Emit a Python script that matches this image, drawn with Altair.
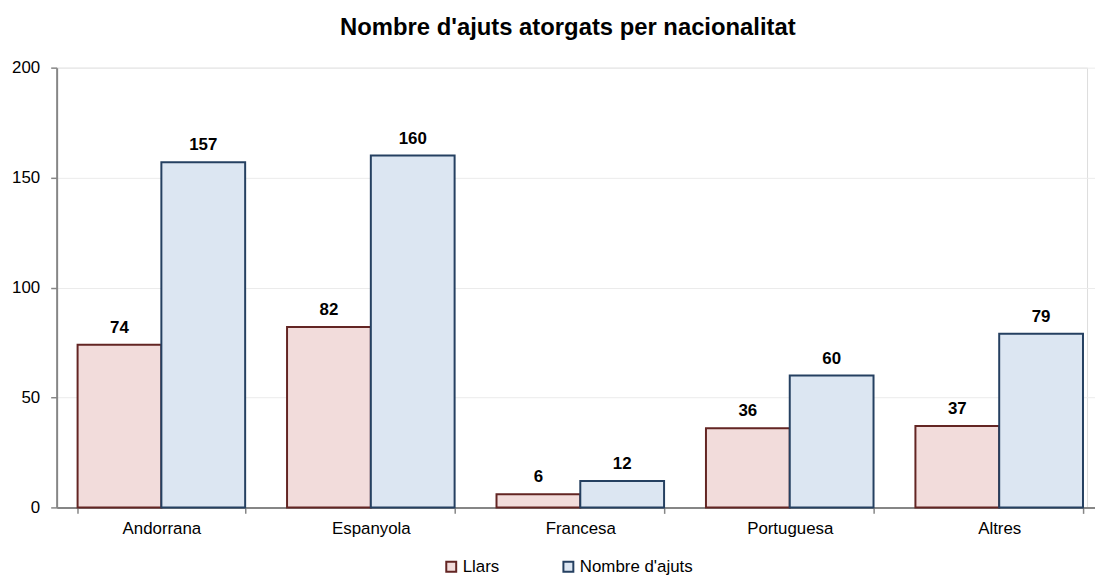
import altair as alt
import pandas as pd

categories = ["Andorrana", "Espanyola", "Francesa", "Portuguesa", "Altres"]
series = ["Llars", "Nombre d'ajuts"]
llars = [74, 82, 6, 36, 37]
ajuts = [157, 160, 12, 60, 79]
y_ticks = [0, 50, 100, 150, 200]

rows = []
for c, a, b in zip(categories, llars, ajuts):
    rows.append({"nacionalitat": c, "serie": series[0], "valor": a})
    rows.append({"nacionalitat": c, "serie": series[1], "valor": b})
df = pd.DataFrame(rows)

FONT = "Liberation Sans"
fills = ["#F2DCDB", "#DCE6F2"]
strokes = ["#632523", "#254061"]

x = alt.X("nacionalitat:N", sort=categories, title=None,
          scale=alt.Scale(paddingInner=0.2, paddingOuter=0.1, range=[0, 1055]),
          axis=alt.Axis(labelAngle=0, labelFont=FONT, labelFontSize=17, labelColor="#000000",
                        domainColor="#868686", domainWidth=2, tickColor="#868686", tickWidth=1.5,
                        tickSize=6, tickBand="extent", labelPadding=7, grid=False))
y = alt.Y("valor:Q", title=None,
          scale=alt.Scale(domain=[0, 200], nice=False),
          axis=alt.Axis(values=y_ticks, labelFont=FONT, labelFontSize=17, labelColor="#000000",
                        domainColor="#868686", domainWidth=2, tickColor="#868686", tickWidth=1.5,
                        tickSize=6, labelPadding=11, gridColor="#EBEBEB", gridWidth=1))
xo = alt.XOffset("serie:N", sort=series, scale=alt.Scale(paddingInner=0, paddingOuter=0))

base = alt.Chart(df).encode(x=x, y=y, xOffset=xo)

bars = base.mark_bar(strokeWidth=2).encode(
    fill=alt.Fill("serie:N", sort=series, title=None,
                  scale=alt.Scale(domain=series, range=fills),
                  legend=alt.Legend(orient="none", direction="horizontal", legendX=389, legendY=494,
                                    symbolType="square", symbolSize=100, symbolStrokeWidth=2,
                                    labelFont=FONT, labelFontSize=17, labelColor="#000000",
                                    labelOffset=3, columnPadding=60, padding=0)),
    stroke=alt.Stroke("serie:N", sort=series, title=None,
                      scale=alt.Scale(domain=series, range=strokes)),
)

labels = base.mark_text(font=FONT, fontSize=17, fontWeight="bold", color="#000000",
                        baseline="alphabetic", dy=-12).encode(text="valor:Q")

chart = (bars + labels).properties(
    width=1038, height=443,
    title=alt.TitleParams("Nombre d'ajuts atorgats per nacionalitat", font=FONT, fontSize=24,
                          fontWeight="bold", color="#000000", anchor="middle", dx=-4,
                          offset=19),
    autosize=alt.AutoSizeParams(type="none"),
    padding={"left": 49, "top": 58, "right": 8, "bottom": 66},
).configure_view(stroke=None).configure(background="#FFFFFF")

chart.save("out.html", embed_options={"renderer": "svg", "actions": False})
